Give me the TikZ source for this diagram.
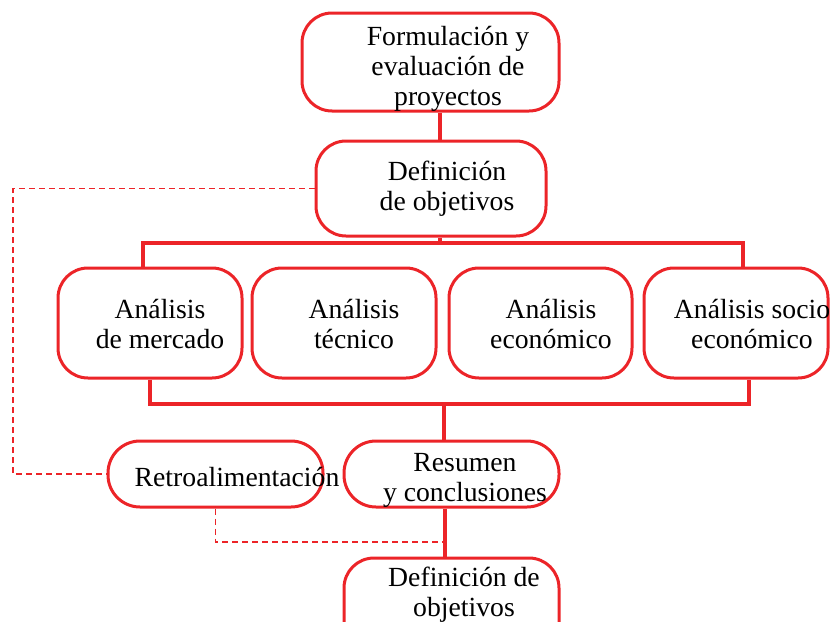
\documentclass[tikz,border=0pt]{standalone}
\usepackage{fontspec}
\setmainfont{Liberation Serif}
\definecolor{boxred}{RGB}{236,36,40}
\begin{document}
\begin{tikzpicture}[x=1pt,y=-1pt,
  box/.style={draw=boxred,line width=3pt,rounded corners=30pt,fill=white,inner sep=0pt},
  pill/.style={draw=boxred,line width=3pt,rounded corners=32pt,fill=white,inner sep=0pt},
  lbl/.style={align=center,inner sep=0pt,font=\fontsize{27.7}{30}\selectfont},
  conn/.style={draw=boxred,line width=3.2pt},
  fb/.style={draw=boxred,line width=1.6pt,dash pattern=on 6pt off 4pt}]
\useasboundingbox (0,0) rectangle (832,621);
% boxes
\node[box,minimum width=257pt,minimum height=98pt] (top) at (430.5,62) {};
\node[box,minimum width=230pt,minimum height=95pt] (def1) at (431,188.5) {};
\node[box,minimum width=184pt,minimum height=110pt] (A) at (150,323) {};
\node[box,minimum width=184pt,minimum height=110pt] (B) at (344,323) {};
\node[box,minimum width=183pt,minimum height=110pt] (C) at (540.5,323) {};
\node[box,minimum width=184pt,minimum height=110pt] (D) at (736,323) {};
\node[pill,minimum width=215pt,minimum height=66pt] (retro) at (215.5,474) {};
\node[pill,minimum width=215pt,minimum height=66pt] (res) at (451.5,474) {};
\node[box,minimum width=215pt,minimum height=94pt] (def2) at (451.5,605) {};
% texts
\node[lbl] (ttop) at (448,69) {Formulación y\\evaluación de\\proyectos};
\node[lbl] (tdef1) at (447,189) {Definición\\de objetivos};
\node[lbl] (tA) at (160,324) {Análisis\\de mercado};
\node[lbl] (tB) at (354,324) {Análisis\\técnico};
\node[lbl] (tC) at (551,324) {Análisis\\económico};
\node[lbl] (tD) at (752,324) {Análisis socio\\económico};
\node[lbl] (tretro) at (237,477) {Retroalimentación};
\node[lbl] (tres) at (465,480) {Resumen\\ y conclusiones};
\node[lbl] (tdef2) at (464,595) {Definición de\\objetivos};
% junctions
\coordinate (jtop) at (440,243);
\coordinate (bl) at (143,243);
\coordinate (br) at (743,243);
\coordinate (bl2) at (150,404);
\coordinate (br2) at (749,404);
\coordinate (jbot) at (444,404);
\coordinate (jres) at (445,542);
\coordinate (dl) at (13,0);
% connectors
\draw[conn] (top.south -| jtop) -- (def1.north -| jtop);
\draw[conn] (def1.south -| jtop) -- (jtop);
\draw[conn] (A.north -| bl) -- (bl) -- (br) -- (D.north -| br);
\draw[conn] (A.south -| bl2) -- (bl2) -- (br2) -- (D.south -| br2);
\draw[conn] (jbot) -- (res.north -| jbot);
\draw[conn] (res.south -| jres) -- (def2.north -| jres);
\draw[fb] (def1.west) -- (def1.west -| dl) -- (retro.west -| dl) -- (retro.west);
\draw[fb] (retro.south) |- (jres);
\end{tikzpicture}
\end{document}
